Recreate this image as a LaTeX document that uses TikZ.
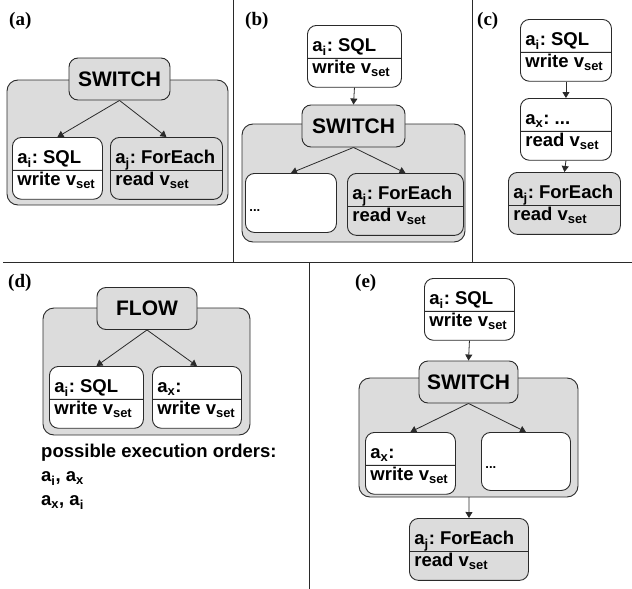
\documentclass[tikz,border=0pt]{standalone}
\usepackage{fontspec}
\setsansfont{Liberation Sans}
\newfontfamily\labfont{Liberation Serif}
\usetikzlibrary{arrows.meta,shapes.multipart}

\definecolor{panelgray}{HTML}{DCDCDC}
\definecolor{linegray}{HTML}{2A2A2A}
\newcommand{\toppart}[1]{\rule[-6pt]{0pt}{32pt}#1}
\newcommand{\botpart}[1]{\rule[-13pt]{0pt}{28pt}#1}
\frenchspacing

\begin{document}
\begin{tikzpicture}[>={Triangle[length=6pt,width=7pt]},x=1pt,y=-1pt,
 font=\sffamily\bfseries\fontsize{18.5}{21}\selectfont,
 act/.style={draw=linegray,line width=0.9pt,rounded corners=9pt,fill=white,
   rectangle split,rectangle split parts=2,rectangle split part align={left},
   minimum width=92pt,inner xsep=5pt,inner ysep=0pt,anchor=north west},
 wide/.style={act,minimum width=114pt,fill=panelgray},
 dotbox/.style={draw=linegray,line width=0.9pt,rounded corners=9pt,fill=white,
   minimum height=59pt,text width=83pt,align=left,inner xsep=4pt,inner ysep=0pt,
   anchor=north west,font=\sffamily\bfseries\fontsize{13}{15}\selectfont},
 ctrl/.style={draw=linegray,line width=0.9pt,rounded corners=9pt,fill=panelgray,
   minimum width=101pt,minimum height=42pt,inner sep=0pt,
   font=\sffamily\bfseries\fontsize{21}{24}\selectfont},
 cont/.style={draw=linegray,line width=0.9pt,rounded corners=11pt,fill=panelgray},
 flowline/.style={->,draw=linegray,line width=0.8pt},
 sep/.style={draw=linegray,line width=1pt},
 lab/.style={font=\labfont\bfseries\fontsize{19}{22}\selectfont,anchor=base west,inner sep=0pt}]
\useasboundingbox (0,0) rectangle (632,589);
% panel rules
\draw[sep] (233,0) -- (233,262);
\draw[sep] (472,0) -- (472,262);
\draw[sep] (3,262) -- (632,262);
\draw[sep] (309,262) -- (309,589);
% (a)
\node[lab] (la) at (9,25) {(a)};
\draw[cont] (7,80) rectangle (228,205);
\node[ctrl] (swa) at (119.5,79) {SWITCH};
\node[act,minimum width=90pt] (aia) at (12,137) {\toppart{a\textsubscript{i}: SQL}\nodepart{two}\botpart{write v\textsubscript{set}}};
\node[wide,minimum width=112pt] (aja) at (110,137) {\toppart{a\textsubscript{j}: ForEach}\nodepart{two}\botpart{read v\textsubscript{set}}};
\draw[flowline] (swa.south) -- (aia.north);
\draw[flowline] (swa.south) -- (aja.north);
% (b)
\node[lab] (lb) at (245,25) {(b)};
\node[act,minimum width=94pt] (aib) at (307,25) {\toppart{a\textsubscript{i}: SQL}\nodepart{two}\botpart{write v\textsubscript{set}}};
\draw[cont] (242,124) rectangle (465,242);
\node[ctrl,minimum width=103pt] (swb) at (353.5,126) {SWITCH};
\node[dotbox] (dob) at (245,173) {\rule{0pt}{18pt}...};
\node[wide,minimum width=116pt] (ajb) at (347,173) {\toppart{a\textsubscript{j}: ForEach}\nodepart{two}\botpart{read v\textsubscript{set}}};
\draw[flowline] (aib.south) -- (swb.north);
\draw[flowline] (swb.south) -- (dob.north);
\draw[flowline] (swb.south) -- (ajb.north);
% (c)
\node[lab] (lc) at (477,25) {(c)};
\node[act,minimum width=91pt] (aic) at (520,19) {\toppart{a\textsubscript{i}: SQL}\nodepart{two}\botpart{write v\textsubscript{set}}};
\node[act,minimum width=91pt] (axc) at (520,98) {\toppart{a\textsubscript{x}: ...}\nodepart{two}\botpart{read v\textsubscript{set}}};
\node[wide,minimum width=112pt] (ajc) at (508,172) {\toppart{a\textsubscript{j}: ForEach}\nodepart{two}\botpart{read v\textsubscript{set}}};
\draw[flowline] (aic.south) -- (axc.north);
\draw[flowline] (axc.south) -- (ajc.north);
% (d)
\node[lab] (ld) at (8,287) {(d)};
\draw[cont] (43,308) rectangle (250,435);
\node[ctrl,minimum width=100pt] (fld) at (147,308.5) {FLOW};
\node[act,minimum width=94pt] (aid) at (49,366) {\toppart{a\textsubscript{i}: SQL}\nodepart{two}\botpart{write v\textsubscript{set}}};
\node[act,minimum width=89pt] (axd) at (152,366) {\toppart{a\textsubscript{x}:}\nodepart{two}\botpart{write v\textsubscript{set}}};
\draw[flowline] (fld.south) -- (aid.north);
\draw[flowline] (fld.south) -- (axd.north);
\node[anchor=north west,inner sep=0pt,align=left] (ord) at (41,444)
  {possible execution orders:\\[3pt]a\textsubscript{i}, a\textsubscript{x}\\[3pt]a\textsubscript{x}, a\textsubscript{i}};
% (e)
\node[lab] (le) at (355,287) {(e)};
\node[act,minimum width=90pt] (aie) at (424,278) {\toppart{a\textsubscript{i}: SQL}\nodepart{two}\botpart{write v\textsubscript{set}}};
\draw[cont] (359,378) rectangle (578,497);
\node[ctrl,minimum width=99pt] (swe) at (468.5,382) {SWITCH};
\node[act,minimum width=90pt] (axe) at (365,432) {\toppart{a\textsubscript{x}:}\nodepart{two}\botpart{write v\textsubscript{set}}};
\node[dotbox,text width=81pt,minimum height=58pt] (doe) at (481,432) {\rule{0pt}{14pt}...};
\node[wide,minimum width=119pt] (aje) at (409,518) {\toppart{a\textsubscript{j}: ForEach}\nodepart{two}\botpart{read v\textsubscript{set}}};
\draw[flowline] (aie.south) -- (swe.north);
\draw[flowline] (swe.south) -- (axe.north);
\draw[flowline] (swe.south) -- (doe.north);
\draw[flowline] (469,497) -- (aje.north);
\end{tikzpicture}
\end{document}
